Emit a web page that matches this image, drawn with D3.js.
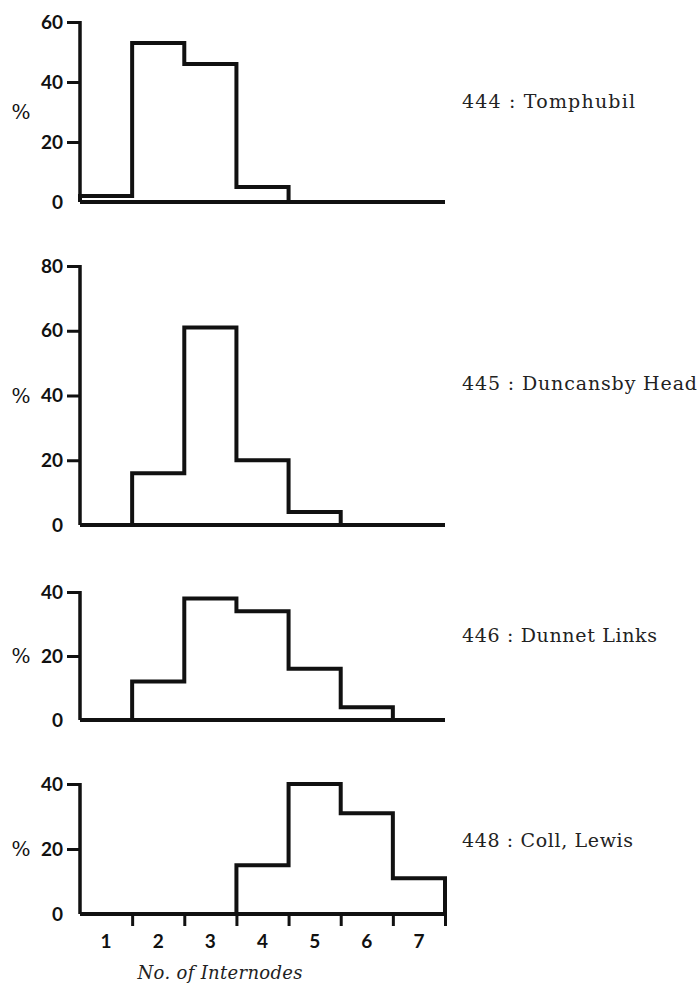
<!DOCTYPE html>
<html>
<head>
<meta charset="utf-8">
<script src="https://cdn.jsdelivr.net/npm/d3@7"></script>
<style>
  body { margin: 0; background: #fff; }
  svg { display: block; }
  .tick text { font-family: Lato, "DejaVu Sans", sans-serif; font-weight: 700; font-size: 19px; fill: #111; }
</style>
</head>
<body>
<svg id="chart" width="699" height="986"></svg>
<script>
// No. of internodes (bins)
let categories = [1, 2, 3, 4, 5, 6, 7];

// % of plants in each bin, per population
let tomphubil = [2, 53, 46, 5, 0, 0, 0];
let duncansby = [0, 16, 61, 20, 4, 0, 0];
let dunnet = [0, 12, 38, 34, 16, 4, 0];
let coll = [0, 0, 0, 15, 40, 31, 11];

let names = ["444 :  Tomphubil", "445 :  Duncansby Head", "446 :  Dunnet Links", "448 :  Coll, Lewis"];
let yTicks = [[0, 20, 40, 60], [0, 20, 40, 60, 80], [0, 20, 40], [0, 20, 40]];
let yMax = [60, 80, 40, 40];

let panels = [
    { values: tomphubil, top: 22, bottom: 202, pctAt: 30, labelY: 108, labelW: 173 },
    { values: duncansby, top: 266, bottom: 525, pctAt: 40, labelY: 390, labelW: 235 },
    { values: dunnet, top: 592, bottom: 720, pctAt: 20, labelY: 642, labelW: 195 },
    { values: coll, top: 784, bottom: 914, pctAt: 20, labelY: 847, labelW: 171 }
];

let svg = d3.select("#chart");

let x = d3.scaleLinear()
    .domain([0.5, 7.5])
    .range([80, 445]);

panels.forEach(function(p, i) {
    let y = d3.scaleLinear()
        .domain([0, yMax[i]])
        .range([p.bottom, p.top]);

    let g = svg.append("g");

    // baseline
    g.append("line")
        .attr("x1", x(0.5)).attr("x2", x(7.5))
        .attr("y1", y(0)).attr("y2", y(0))
        .attr("stroke", "#111").attr("stroke-width", 4);

    // y axis
    let axis = g.append("g")
        .attr("transform", "translate(" + x(0.5) + ",0)")
        .call(d3.axisLeft(y).tickValues(yTicks[i]).tickSize(13).tickPadding(4));
    axis.select(".domain").remove();
    axis.selectAll(".tick line").attr("stroke", "#111").attr("stroke-width", 3);
    axis.selectAll(".tick").filter(d => d == 0).select("line").remove();
    g.append("line")
        .attr("x1", x(0.5)).attr("x2", x(0.5))
        .attr("y1", y(yMax[i]) - 1).attr("y2", y(0))
        .attr("stroke", "#111").attr("stroke-width", 3.5);

    // step outline of the histogram
    let pts = [[0.5, 0]];
    p.values.forEach(function(v, j) {
        pts.push([categories[j] - 0.5, v]);
        pts.push([categories[j] + 0.5, v]);
    });
    pts.push([7.5, 0]);
    let line = d3.line()
        .x(d => x(d[0]))
        .y(d => y(d[1]));
    g.append("path")
        .attr("d", line(pts))
        .attr("fill", "none")
        .attr("stroke", "#111")
        .attr("stroke-width", 4)
        .attr("stroke-linejoin", "miter");

    // % label
    g.append("text")
        .attr("x", 21).attr("y", y(p.pctAt) + 7)
        .attr("text-anchor", "middle")
        .style("font-family", "'DejaVu Serif', serif")
        .style("font-size", "20px")
        .attr("fill", "#111")
        .text("%");

    // population name
    g.append("text")
        .attr("x", 462).attr("y", p.labelY)
        .attr("textLength", p.labelW)
        .attr("lengthAdjust", "spacing")
        .style("font-family", "'DejaVu Serif', serif")
        .style("font-size", "19px")
        .attr("fill", "#222")
        .text(names[i]);

    // bottom axis only on last panel
    if (i == panels.length - 1) {
        let xa = g.append("g")
            .attr("transform", "translate(0," + y(0) + ")")
            .call(d3.axisBottom(x).tickValues([1.5, 2.5, 3.5, 4.5, 5.5, 6.5, 7.5]).tickSize(12).tickFormat(""));
        xa.select(".domain").remove();
        xa.selectAll(".tick line").attr("stroke", "#111").attr("stroke-width", 3);

        g.selectAll(".xlab")
            .data(categories)
            .enter().append("text")
            .attr("class", "xlab")
            .attr("x", d => x(d))
            .attr("y", 948)
            .attr("text-anchor", "middle")
            .style("font-family", "Lato, 'DejaVu Sans', sans-serif")
            .style("font-weight", 700)
            .style("font-size", "19px")
            .attr("fill", "#111")
            .text(d => d);

        g.append("text")
            .attr("x", 220).attr("y", 979)
            .attr("text-anchor", "middle")
            .attr("textLength", 165)
            .attr("lengthAdjust", "spacing")
            .style("font-family", "'DejaVu Serif', serif")
            .style("font-style", "italic")
            .style("font-size", "18px")
            .attr("fill", "#222")
            .text("No. of Internodes");
    }
});
</script>
</body>
</html>
